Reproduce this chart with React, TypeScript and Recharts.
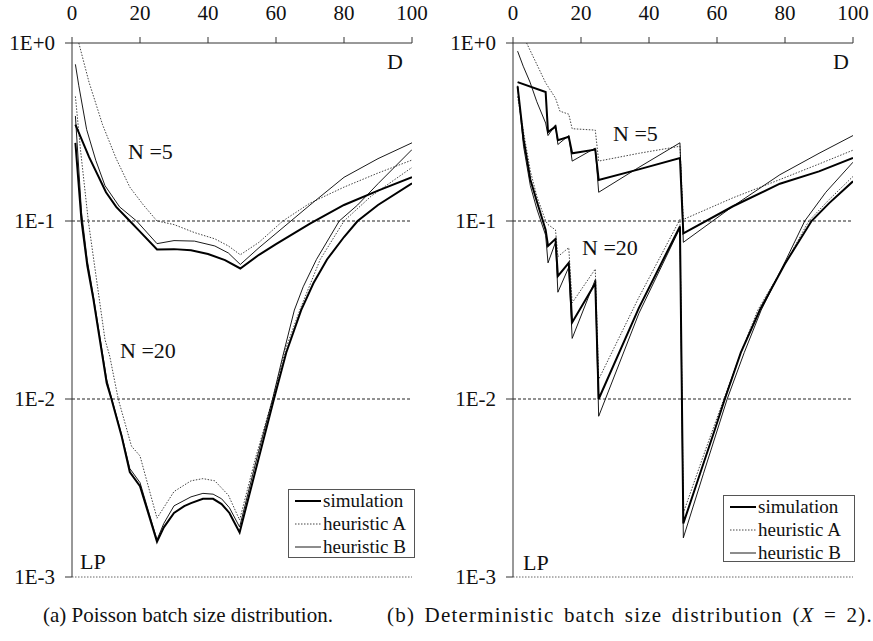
import { LineChart, Line, XAxis, YAxis, ReferenceLine } from 'recharts'

// [D, loss probability] pairs
type Pt = [number, number]

const dTicks = [0, 20, 40, 60, 80, 100]
const lpTicks = [0.001, 0.01, 0.1, 1]
const lpTickLabels = ['1E-3', '1E-2', '1E-1', '1E+0']
const legendNames = ['simulation', 'heuristic A', 'heuristic B']

// (a) Poisson batch sizes
const poissonSim5: Pt[] = [
  [1, 0.348], [5, 0.229], [10, 0.145], [13, 0.12], [17, 0.1], [20, 0.0871], [25, 0.0692],
  [30, 0.0695], [35, 0.0684], [40, 0.0653], [45, 0.0603], [49.5, 0.0541], [55, 0.0646],
  [60, 0.0741], [70, 0.0966], [80, 0.123], [90, 0.148], [100, 0.176],
]
const poissonA5: Pt[] = [
  [2, 1.0], [5, 0.603], [9, 0.347], [13, 0.224], [17, 0.155], [21, 0.123], [25, 0.1],
  [30, 0.0955], [36, 0.0861], [42, 0.0794], [46, 0.0724], [49.5, 0.0646], [55, 0.0759],
  [62, 0.1], [70, 0.126], [80, 0.155], [90, 0.186], [100, 0.22],
]
const poissonB5: Pt[] = [
  [1, 0.759], [2, 0.575], [4.3, 0.327], [7, 0.219], [9.7, 0.158], [14, 0.12], [19, 0.1],
  [25, 0.0746], [30, 0.0776], [36, 0.0771], [42, 0.0724], [46, 0.0661], [49.5, 0.057],
  [55, 0.0708], [60, 0.0851], [70, 0.123], [80, 0.176], [90, 0.224], [100, 0.275],
]
const poissonSim20: Pt[] = [
  [1, 0.275], [2.8, 0.1], [4.5, 0.0562], [6.3, 0.0363], [8.2, 0.0214], [10.2, 0.0123],
  [11.6, 0.01], [14.6, 0.00617], [17, 0.00389], [20, 0.00324], [25, 0.00158], [27, 0.0019],
  [30, 0.00229], [33, 0.0025], [35, 0.0026], [38.5, 0.00275], [41.5, 0.00275], [44, 0.00257],
  [46.3, 0.00229], [49.3, 0.00178], [54, 0.00398], [59.4, 0.01], [63, 0.0182], [67.4, 0.0316],
  [71, 0.0447], [75, 0.0608], [80, 0.0813], [84, 0.1], [90, 0.123], [100, 0.163],
]
const poissonA20: Pt[] = [
  [1, 0.501], [2.5, 0.251], [4.8, 0.1], [7, 0.0501], [9.7, 0.0216], [11.1, 0.0174],
  [13.6, 0.01], [17.5, 0.00543], [20, 0.00479], [25, 0.00214], [30, 0.00302], [35, 0.00347],
  [38.5, 0.00357], [42, 0.00347], [46, 0.00288], [49.3, 0.00209], [54, 0.00468], [59, 0.01],
  [63, 0.0195], [67, 0.0316], [73, 0.0608], [80, 0.1], [88, 0.138], [100, 0.2],
]
const poissonB20: Pt[] = [
  [1, 0.389], [2.8, 0.112], [4.5, 0.06], [6.3, 0.038], [8.2, 0.0224], [10.2, 0.0129],
  [11.6, 0.0102], [14.6, 0.00631], [17, 0.00407], [20, 0.00339], [25, 0.00162], [27, 0.002],
  [30, 0.00251], [35, 0.00282], [38.5, 0.00295], [41.5, 0.00292], [44, 0.00275],
  [46.3, 0.00245], [49.3, 0.00191], [54, 0.00437], [59, 0.01], [62, 0.0174], [65.4, 0.0316],
  [68, 0.0427], [71.9, 0.0608], [78.6, 0.1], [84, 0.123], [90, 0.162], [100, 0.252],
]

// (b) deterministic batch sizes, X = 2
const detSim5: Pt[] = [
  [1.35, 0.603], [9.6, 0.53], [10.3, 0.316], [12.5, 0.339], [13.2, 0.284], [16.4, 0.297],
  [17.4, 0.24], [24.2, 0.252], [25.2, 0.17], [37, 0.195], [49.1, 0.226], [50.1, 0.0851],
  [64.7, 0.121], [78.5, 0.162], [90, 0.19], [100, 0.226],
]
const detA5: Pt[] = [
  [4, 1.0], [7, 0.759], [9.6, 0.597], [12.5, 0.49], [13.8, 0.414], [16.4, 0.398],
  [17.4, 0.33], [24.2, 0.324], [25.2, 0.217], [37, 0.24], [49.1, 0.263], [50.1, 0.102],
  [64.7, 0.135], [78.5, 0.171], [90, 0.209], [100, 0.25],
]
const detB5: Pt[] = [
  [1.35, 0.9], [3, 0.741], [5, 0.603], [7, 0.468], [9.6, 0.355], [10.3, 0.302], [12.5, 0.347],
  [13.2, 0.269], [16.4, 0.302], [17.4, 0.217], [24.2, 0.257], [25.2, 0.145], [37, 0.2],
  [49.1, 0.275], [50.1, 0.0759], [64.7, 0.121], [78.5, 0.182], [90, 0.24], [100, 0.302],
]
const detSim20: Pt[] = [
  [1.35, 0.571], [3.1, 0.288], [5.1, 0.171], [7, 0.129], [9.6, 0.0891], [10.3, 0.0724],
  [12.5, 0.0794], [13.2, 0.049], [16.4, 0.0582], [17.4, 0.0269], [24.2, 0.0447], [25.2, 0.01],
  [37, 0.0324], [49.1, 0.0933], [50.1, 0.002], [55, 0.0038], [59.4, 0.00676], [62.3, 0.01],
  [67, 0.0182], [72.6, 0.0316], [80, 0.0575], [87.8, 0.1], [93, 0.126], [100, 0.167],
]
const detA20: Pt[] = [
  [1.35, 0.501], [3.1, 0.316], [5.1, 0.191], [7, 0.138], [9.6, 0.1], [10.3, 0.0955],
  [12.5, 0.0891], [13.2, 0.0631], [16.4, 0.0708], [17.4, 0.0347], [24.2, 0.0537],
  [25.2, 0.0129], [37, 0.0372], [49.1, 0.102], [50.1, 0.00229], [56, 0.0048], [62, 0.01],
  [67, 0.0182], [72, 0.0316], [80, 0.0575], [87, 0.1], [93, 0.132], [100, 0.178],
]
const detB20: Pt[] = [
  [1.35, 0.575], [3.1, 0.263], [5.1, 0.158], [7, 0.117], [9.6, 0.0832], [10.3, 0.0582],
  [12.5, 0.0759], [13.2, 0.0398], [16.4, 0.055], [17.4, 0.0219], [24.2, 0.0468], [25.2, 0.008],
  [37, 0.0302], [49.1, 0.0912], [50.1, 0.00166], [56, 0.0038], [63, 0.01], [68, 0.0182],
  [73, 0.0316], [80, 0.0589], [85.8, 0.1], [92, 0.145], [100, 0.214],
]

const serif = '"Liberation Serif", "Times New Roman", serif'
const ink = '#111'

// line look for simulation / heuristic A / heuristic B
const looks = [
  { stroke: '#000', width: 2, dash: undefined as string | undefined },
  { stroke: '#444', width: 1, dash: '1.5 1.5' },
  { stroke: '#000', width: 0.9, dash: undefined as string | undefined },
]

const rows = (pts: Pt[]) => pts.map(([d, p]) => ({ d, p }))

interface PanelProps {
  left: number
  sim: Pt[][]
  heurA: Pt[][]
  heurB: Pt[][]
}

function Panel({ left, sim, heurA, heurB }: PanelProps) {
  // dotted first, thick on top
  const layers: [Pt[], number][] = [
    ...heurA.map((s) => [s, 1] as [Pt[], number]),
    ...heurB.map((s) => [s, 2] as [Pt[], number]),
    ...sim.map((s) => [s, 0] as [Pt[], number]),
  ]
  return (
    <div style={{ position: 'absolute', left, top: 0 }}>
      <LineChart width={430} height={600} margin={{ top: 3, right: 18, bottom: 23, left: 12 }}>
        <XAxis
          type="number"
          dataKey="d"
          orientation="top"
          domain={[0, 100]}
          ticks={dTicks}
          height={40}
          tickSize={6}
          tickMargin={17}
          tick={{ fill: ink, fontSize: 21, fontFamily: serif }}
          axisLine={{ stroke: '#333' }}
          tickLine={{ stroke: '#333' }}
          allowDataOverflow
        />
        <YAxis
          type="number"
          scale="log"
          domain={[0.001, 1]}
          ticks={lpTicks}
          tickFormatter={(v: number) => lpTickLabels[lpTicks.indexOf(v)]}
          width={60}
          tickSize={7}
          tickMargin={10}
          tick={{ fill: ink, fontSize: 21, fontFamily: serif }}
          axisLine={{ stroke: '#333' }}
          tickLine={{ stroke: '#333' }}
          allowDataOverflow
        />
        <ReferenceLine y={0.1} stroke="#222" strokeDasharray="3 2" />
        <ReferenceLine y={0.01} stroke="#222" strokeDasharray="3 2" />
        <ReferenceLine y={0.001} stroke="#666" strokeDasharray="1.5 1.5" />
        {layers.map(([pts, k], i) => (
          <Line
            key={i}
            data={rows(pts)}
            dataKey="p"
            type="linear"
            stroke={looks[k].stroke}
            strokeWidth={looks[k].width}
            strokeDasharray={looks[k].dash}
            dot={false}
            activeDot={false}
            isAnimationActive={false}
          />
        ))}
      </LineChart>
    </div>
  )
}

function Note({ x, y, children }: { x: number; y: number; children: React.ReactNode }) {
  return (
    <div
      style={{
        position: 'absolute',
        left: x,
        top: y,
        fontFamily: serif,
        fontSize: 22,
        lineHeight: '22px',
        color: ink,
        whiteSpace: 'nowrap',
      }}
    >
      {children}
    </div>
  )
}

function Key({ left, top, width, height }: { left: number; top: number; width: number; height: number }) {
  return (
    <div
      style={{
        position: 'absolute',
        left,
        top,
        width,
        height,
        boxSizing: 'border-box',
        border: '1px solid #555',
        background: '#fff',
      }}
    >
      {legendNames.map((name, i) => (
        <div
          key={name}
          style={{
            position: 'absolute',
            left: 6,
            top: i * 22.7,
            height: 22.7,
            display: 'flex',
            alignItems: 'center',
            whiteSpace: 'nowrap',
          }}
        >
          <svg width={26} height={4}>
            <line
              x1={0}
              y1={2}
              x2={26}
              y2={2}
              stroke={looks[i].stroke}
              strokeWidth={looks[i].width}
              strokeDasharray={looks[i].dash}
            />
          </svg>
          <span style={{ marginLeft: 2, fontFamily: serif, fontSize: 19, color: ink }}>{name}</span>
        </div>
      ))}
    </div>
  )
}

const captionStyle: React.CSSProperties = {
  position: 'absolute',
  top: 605,
  fontFamily: serif,
  fontSize: 21,
  lineHeight: '21px',
  color: ink,
  whiteSpace: 'nowrap',
}

export default function App() {
  return (
    <div style={{ position: 'absolute', left: 0, top: 0, width: 873, height: 641, background: '#fff' }}>
      <Panel left={0} sim={[poissonSim5, poissonSim20]} heurA={[poissonA5, poissonA20]} heurB={[poissonB5, poissonB20]} />
      <Panel left={441} sim={[detSim5, detSim20]} heurA={[detA5, detA20]} heurB={[detB5, detB20]} />

      <Note x={387} y={51}>D</Note>
      <Note x={128} y={141}>N =5</Note>
      <Note x={120} y={340}>N =20</Note>
      <Note x={80} y={551}>LP</Note>

      <Note x={833} y={51}>D</Note>
      <Note x={613} y={123}>N =5</Note>
      <Note x={582} y={237}>N =20</Note>
      <Note x={523} y={552}>LP</Note>

      <Key left={288} top={489} width={127} height={69} />
      <Key left={723} top={495} width={132} height={67} />

      <div style={{ ...captionStyle, left: 43 }}>(a) Poisson batch size distribution.</div>
      <div style={{ ...captionStyle, left: 387, letterSpacing: 1.2, wordSpacing: 3 }}>
        (b) Deterministic batch size distribution (<i>X</i> = 2).
      </div>
    </div>
  )
}
